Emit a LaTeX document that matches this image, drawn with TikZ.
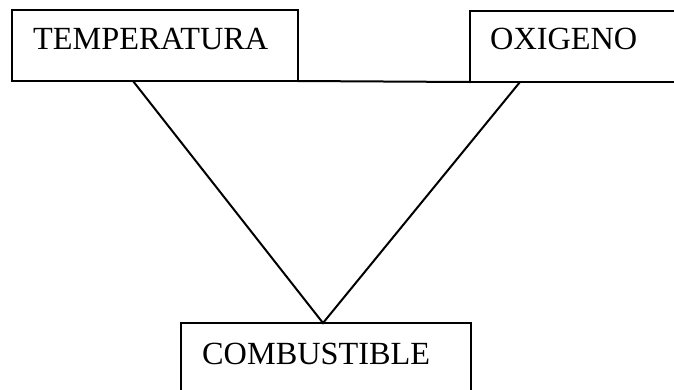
\documentclass[tikz,border=0pt]{standalone}
\usepackage{fontspec}
\setmainfont{Liberation Serif}
\begin{document}
\begin{tikzpicture}[x=1pt,y=-1pt,
  box/.style={draw, line width=2pt, anchor=north west, inner sep=0pt, outer sep=0pt},
  lbl/.style={anchor=base west, inner sep=0pt, font=\fontsize{32.3}{36}\selectfont},
  edge/.style={line width=2pt}]
\useasboundingbox (0,0) rectangle (674,389);
\clip (0,0) rectangle (674,389);
% the three boxes (the right and bottom ones run off the page edge)
\node[box, minimum width=286pt, minimum height=71pt] (temp) at (12,10) {};
\node[box, minimum width=230pt, minimum height=71pt] (oxi) at (470,11) {};
\node[box, minimum width=290pt, minimum height=100pt] (comb) at (181,323) {};
% labels
\node[lbl] (ttemp) at (33,49) {TEMPERATURA};
\node[lbl] (toxi) at (490,49) {OXIGENO};
\node[lbl] (tcomb) at (202,364) {COMBUSTIBLE};
% triangle joining the boxes
\coordinate (tl) at (133,81);
\coordinate (tr) at (520,82);
\coordinate (apex) at (323,323);
\draw[edge] (temp.south east) -- (oxi.south west);
\draw[edge] (tl) -- (apex) -- (tr);
\end{tikzpicture}
\end{document}
